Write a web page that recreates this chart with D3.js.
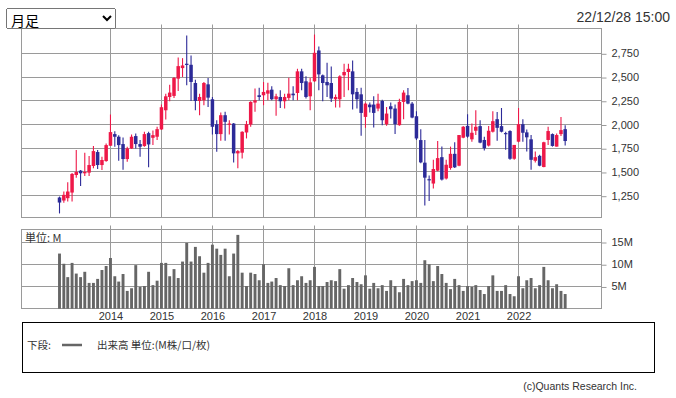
<!DOCTYPE html>
<html>
<head>
<meta charset="utf-8">
<script src="https://cdn.jsdelivr.net/npm/d3@7"></script>
<style>
body{margin:0;background:#fff;}
#wrap{position:relative;width:676px;height:398px;overflow:hidden;}
#chart{position:absolute;left:0;top:0;}
#ashi{position:absolute;left:6px;top:8px;width:110px;height:21px;font:14px "Noto Sans CJK JP","Liberation Sans",sans-serif;}
</style>
</head>
<body>
<div id="wrap">
  <div id="chart"></div>
  <select id="ashi"><option>月足</option><option>週足</option><option>日足</option></select>
</div>
<script>
// monthly candles, Jan 2013 - Dec 2022
var startMonth = new Date(2013, 0, 1);
var endMonth = new Date(2023, 0, 1);
var months = d3.timeMonth.range(startMonth, endMonth);

var openP = [1231,1199,1224,1283,1468,1514,1486,1493,1563,1710,1573,1615,
  1776,1899,1871,1794,1636,1748,1878,1794,1773,1909,1860,1871,
  1948,2150,2290,2301,2483,2594,2640,2629,2437,2248,2255,2423,
  2266,2003,1899,2098,2000,2010,1696,1703,1916,2000,2231,2308,
  2308,2325,2367,2266,2290,2245,2280,2325,2332,2560,2455,2297,
  2455,2780,2518,2448,2437,2266,2266,2518,2553,2560,2343,2318,
  2080,2210,2210,2168,2248,2003,2192,2168,1993,2238,2308,2220,
  2087,1836,1598,1424,1378,1514,1656,1431,1542,1691,1566,1861,
  1986,1844,1934,1983,1837,1778,1924,2056,1983,1910,1931,1639,
  1819,2003,1917,1844,1618,1670,1552,1837,1899,1767,1899,1951];
var highP = [1241,1294,1392,1489,1731,1521,1703,1668,1773,1731,1661,1801,
  2105,1930,1888,1864,1766,1895,1906,1836,1923,1923,1937,1976,
  2210,2325,2420,2500,2706,2699,2937,2727,2472,2325,2448,2490,
  2290,2045,2126,2133,2045,2017,1731,1930,2038,2245,2378,2388,
  2448,2441,2402,2325,2360,2325,2493,2402,2587,2587,2507,2490,
  2948,2822,2528,2650,2612,2315,2518,2640,2640,2675,2385,2388,
  2231,2231,2297,2325,2262,2185,2231,2210,2270,2360,2385,2238,
  2140,1951,1836,1462,1628,1826,1767,1628,1767,1812,1889,1983,
  2108,2010,2149,2045,1872,1983,2139,2132,2174,1924,1940,1785,
  2174,2056,1948,1889,1715,1681,1819,1976,1906,1906,2080,1993];
var lowP = [1063,1175,1189,1189,1440,1353,1458,1458,1538,1531,1521,1608,
  1776,1766,1619,1524,1608,1741,1748,1661,1766,1549,1783,1836,
  1941,2052,2245,2280,2353,2500,2413,2248,2150,2098,2203,2185,
  1895,1713,1829,1829,1895,1601,1538,1643,1853,1976,2133,2255,
  2203,2255,2255,2091,2175,2168,2255,2255,2255,2360,2273,2150,
  2448,2360,2245,2290,2238,2178,2178,2290,2360,2157,2168,1881,
  1965,2126,1969,2140,1993,1986,2063,1899,1986,2056,2213,2066,
  1836,1591,1147,1194,1326,1507,1410,1420,1524,1542,1559,1854,
  1861,1819,1889,1802,1726,1767,1917,1830,1917,1733,1630,1628,
  1812,1819,1715,1524,1601,1559,1549,1785,1767,1767,1878,1778];
var closeP = [1178,1259,1294,1479,1500,1486,1500,1573,1720,1573,1626,1783,
  1920,1871,1783,1636,1748,1871,1794,1766,1899,1790,1888,1951,
  2182,2297,2336,2490,2615,2622,2633,2448,2248,2290,2437,2283,
  1976,1899,2098,2028,2010,1696,1720,1923,2003,2238,2255,2290,
  2343,2360,2266,2297,2245,2290,2325,2308,2560,2437,2290,2444,
  2755,2528,2437,2413,2273,2290,2507,2553,2587,2318,2266,2122,
  2220,2182,2122,2220,2045,2115,2161,2003,2238,2336,2220,2073,
  1853,1601,1440,1417,1531,1646,1420,1576,1691,1549,1889,1976,
  1872,1913,1976,1809,1750,1934,2035,1965,1924,1903,1639,1785,
  2003,1913,1865,1628,1656,1566,1813,1931,1774,1889,1941,1826];
// volume, millions
var volume = [12.4,10.1,7.1,10.3,7.9,7.1,8.3,5.8,5.8,6.7,8.7,9.6,
  11.4,7.3,6.1,7.8,4.0,4.6,9.8,4.9,5.1,8.3,5.3,6.3,
  10.3,10.3,7.3,8.9,6.9,10.6,14.8,10.6,13.9,11.8,8.1,10.3,
  14.4,13.5,12.1,13.5,7.3,12.4,16.6,8.1,5.1,8.1,7.8,6.4,
  10.0,5.8,6.1,6.9,5.3,5.1,9.1,5.3,6.4,7.3,5.8,6.4,
  9.4,5.1,5.1,6.0,6.4,6.2,8.9,4.5,5.3,6.9,6.0,5.5,
  7.5,4.5,5.8,4.6,5.3,4.0,6.4,5.1,3.7,6.7,5.3,6.2,
  6.4,5.8,10.9,10.0,6.2,9.6,7.8,5.8,4.4,6.7,5.3,4.0,
  5.1,4.9,5.3,4.2,3.3,5.1,7.5,4.0,4.0,5.3,3.3,2.8,
  7.3,4.6,6.4,6.9,4.6,5.3,9.4,6.4,4.6,5.5,4.0,3.3];

var priceTicks = [1250, 1500, 1750, 2000, 2250, 2500, 2750];
var volumeTicks = [5, 10, 15];
var yearTicks = [2014, 2015, 2016, 2017, 2018, 2019, 2020, 2021, 2022];
var stamp = '22/12/28 15:00';
var legendLabel = '出来高 単位:(M株/口/枚)';
var credit = '(c)Quants Research Inc.';

var W = 676, H = 398;
var L = 21.5, R = 601.5;
var pTop = 28.5, pBot = 217.5, vTop = 229.5, vBot = 308.5;
var gridCol = '#9a9a9a', upCol = '#ee1848', downCol = '#2c2a98', volCol = '#666';
var font = '"Liberation Sans", Arial, "Noto Sans CJK JP", sans-serif';
var jfont = '"Noto Sans CJK JP", "Liberation Sans", sans-serif';

var svg = d3.select('#chart').append('svg').attr('width', W).attr('height', H)
  .style('font-family', font);

var x = d3.scaleTime().domain([startMonth, endMonth]).range([59.5, 569.5]);
var y = d3.scaleLinear().domain([1250, 2750]).range([195.7, 53.3]);
var yv = d3.scaleLinear().domain([0, 15]).range([308.7, 242]);

function crisp(v){ return Math.round(v - 0.5) + 0.5; }
var yearDates = yearTicks.map(function(yr){ return new Date(yr, 0, 1); });

// stamp
svg.append('text').attr('x', 670).attr('y', 22).attr('text-anchor', 'end')
  .attr('font-size', 14).attr('fill', '#333').text(stamp);

// grids
var grid = svg.append('g').attr('stroke', gridCol).attr('stroke-width', 1).attr('fill', 'none');
priceTicks.forEach(function(t){
  grid.append('line').attr('x1', L).attr('x2', R).attr('y1', crisp(y(t))).attr('y2', crisp(y(t)));
});
volumeTicks.forEach(function(t){
  grid.append('line').attr('x1', L).attr('x2', R).attr('y1', crisp(yv(t))).attr('y2', crisp(yv(t)));
});
yearDates.forEach(function(d){
  var xx = crisp(x(d));
  grid.append('line').attr('x1', xx).attr('x2', xx).attr('y1', pTop - 4).attr('y2', pBot);
  grid.append('line').attr('x1', xx).attr('x2', xx).attr('y1', vTop - 4).attr('y2', vBot);
});
grid.append('rect').attr('x', L).attr('y', pTop).attr('width', R - L).attr('height', pBot - pTop);
grid.append('rect').attr('x', L).attr('y', vTop).attr('width', R - L).attr('height', vBot - vTop);

// axes
var pAxis = svg.append('g').attr('transform', 'translate(' + R + ',0)')
  .call(d3.axisRight(y).tickValues(priceTicks).tickSize(5).tickPadding(5).tickFormat(d3.format(',')));
var vAxis = svg.append('g').attr('transform', 'translate(' + R + ',0)')
  .call(d3.axisRight(yv).tickValues(volumeTicks).tickSize(5).tickPadding(5).tickFormat(function(d){ return d + 'M'; }));
var xAxis = svg.append('g').attr('transform', 'translate(0,' + vBot + ')')
  .call(d3.axisBottom(x).tickValues(yearDates).tickSize(0).tickPadding(4).tickFormat(d3.timeFormat('%Y')));
[pAxis, vAxis, xAxis].forEach(function(a){
  a.select('.domain').remove();
  a.attr('font-family', font).attr('font-size', 11);
  a.selectAll('line').attr('stroke', gridCol);
  a.selectAll('text').attr('fill', '#333');
});
pAxis.selectAll('.tick line').attr('transform', 'translate(0,0.5)');
vAxis.selectAll('.tick line').attr('transform', 'translate(0,0.5)');

// candles
var bw = 3.5;
var candles = svg.append('g').selectAll('g').data(months).enter().append('g');
candles.append('line')
  .attr('x1', function(d){ return x(d); }).attr('x2', function(d){ return x(d); })
  .attr('y1', function(d, i){ return y(highP[i]); })
  .attr('y2', function(d, i){ return y(lowP[i]); })
  .attr('stroke', function(d, i){ return closeP[i] >= openP[i] ? upCol : downCol; })
  .attr('stroke-width', 1.1);
candles.append('rect')
  .attr('x', function(d){ return x(d) - bw / 2; })
  .attr('width', bw)
  .attr('y', function(d, i){ return y(Math.max(openP[i], closeP[i])); })
  .attr('height', function(d, i){ return Math.max(1.2, Math.abs(y(openP[i]) - y(closeP[i]))); })
  .attr('fill', function(d, i){ return closeP[i] >= openP[i] ? upCol : downCol; });

// volume bars
var vw = 2.9;
svg.append('g').selectAll('rect').data(months).enter().append('rect')
  .attr('x', function(d){ return x(d) - vw / 2; })
  .attr('width', vw)
  .attr('y', function(d, i){ return yv(volume[i]); })
  .attr('height', function(d, i){ return yv(0) - yv(volume[i]); })
  .attr('fill', volCol);

svg.append('text').attr('x', 25).attr('y', 242).attr('font-size', 11)
  .attr('font-family', jfont).attr('fill', '#333').text('単位: M');

// legend
svg.append('rect').attr('x', 22.5).attr('y', 322.5).attr('width', 632).attr('height', 50)
  .attr('fill', 'none').attr('stroke', '#000');
svg.append('text').attr('x', 27).attr('y', 349).attr('font-size', 10.5)
  .attr('font-family', jfont).attr('fill', '#333').text('下段:');
svg.append('line').attr('x1', 62).attr('x2', 82).attr('y1', 345).attr('y2', 345)
  .attr('stroke', volCol).attr('stroke-width', 2.5);
svg.append('text').attr('x', 97).attr('y', 349).attr('font-size', 10.5)
  .attr('font-family', jfont).attr('fill', '#333').text(legendLabel);

svg.append('text').attr('x', 637).attr('y', 390).attr('text-anchor', 'end')
  .attr('font-size', 10.5).attr('fill', '#333').text(credit);
</script>
</body>
</html>
